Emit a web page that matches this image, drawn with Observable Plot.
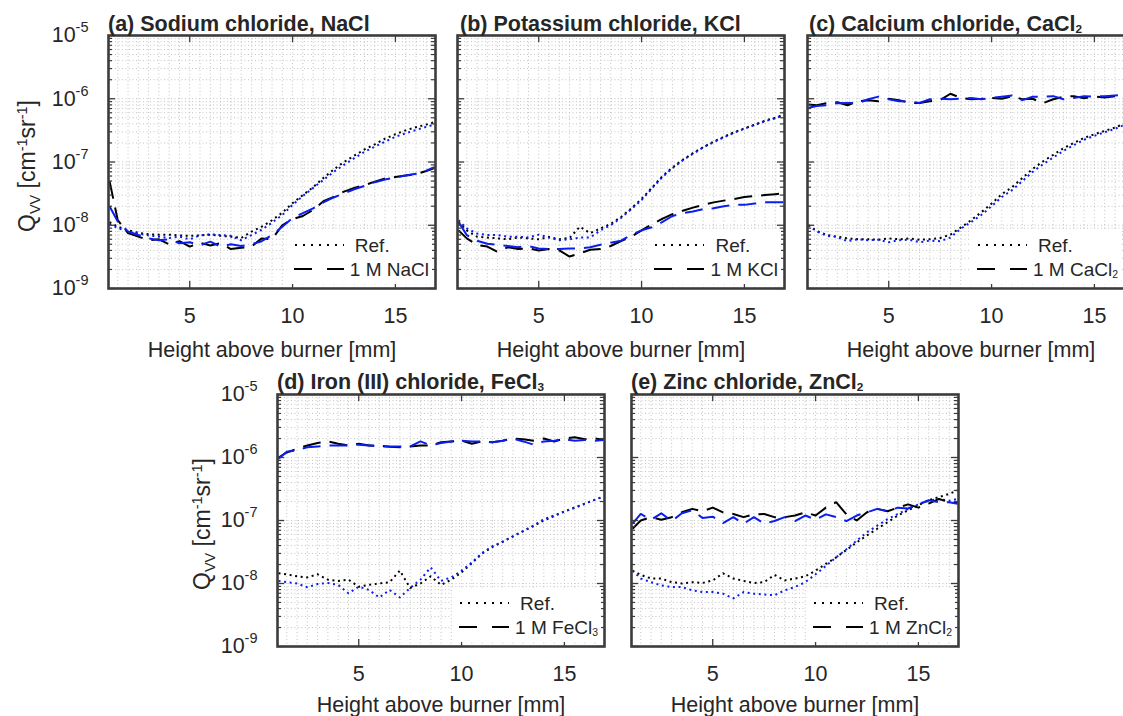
<!DOCTYPE html>
<html>
<head>
<meta charset="utf-8">
<script src="https://cdn.jsdelivr.net/npm/d3@7"></script>
<script src="https://cdn.jsdelivr.net/npm/@observablehq/plot@0.6"></script>
<style>
html, body { margin: 0; padding: 0; overflow: hidden; background: #fff; }
#root { position: relative; width: 1123px; height: 716px; overflow: hidden; background: #fff;
  font-family: "Liberation Sans", Arial, Helvetica, sans-serif; color: #262626; }
.title { position: absolute; font-weight: bold; font-size: 21.5px; line-height: 1; white-space: nowrap; }
.title sub, .legend sub { font-size: 0.55em; vertical-align: -0.2em; line-height: 0; }
.ylab { position: absolute; font-size: 23px; line-height: 1; white-space: nowrap; transform: translate(-50%, -50%) rotate(-90deg); }
.ylab sub { font-size: 0.63em; vertical-align: -0.35em; line-height: 0; }
.ylab sup { font-size: 0.63em; vertical-align: 0.55em; line-height: 0; }
.legend { position: absolute; background: #fff; padding: 3px 3px 3px 7px; font-size: 19px; line-height: 1; }
.legend .row { display: flex; align-items: center; height: 24px; white-space: nowrap; }
svg.panel { position: absolute; }
</style>
</head>
<body>
<div id="root"></div>
<script>
// ---------- data ----------
const heights = [1.1,1.5,2,2.5,3,3.5,4,4.5,5,5.5,6,6.5,7,7.5,8,8.5,9,9.5,10,10.5,11,11.5,12,12.5,13,13.5,14,14.5,15,15.5,16,16.5,16.9];

// (a) NaCl
const naclRefBlack  = [1.12e-8,9.5e-9,8.3e-9,7.6e-9,7.2e-9,7.1e-9,7.1e-9,6.9e-9,6.8e-9,6.9e-9,7.1e-9,6.8e-9,6.6e-9,6.3e-9,7.9e-9,9.5e-9,1.2e-8,1.58e-8,2.24e-8,3.0e-8,4.0e-8,5.6e-8,7.6e-8,1.0e-7,1.26e-7,1.58e-7,1.9e-7,2.34e-7,2.75e-7,3.16e-7,3.55e-7,3.9e-7,4.27e-7];
const naclRefBlue   = [1.05e-8,9.0e-9,8.0e-9,7.4e-9,6.9e-9,6.6e-9,6.3e-9,6.6e-9,6.0e-9,6.9e-9,7.2e-9,7.0e-9,6.8e-9,5.8e-9,7.0e-9,8.5e-9,1.1e-8,1.45e-8,2.1e-8,2.9e-8,3.9e-8,5.2e-8,7.0e-8,9.0e-8,1.15e-7,1.45e-7,1.75e-7,2.1e-7,2.5e-7,2.85e-7,3.2e-7,3.6e-7,3.9e-7];
const naclSaltBlack = [5.0e-8,1.2e-8,7.5e-9,6.6e-9,5.8e-9,6.0e-9,5.0e-9,5.6e-9,4.6e-9,5.3e-9,4.8e-9,5.2e-9,4.2e-9,4.4e-9,4.6e-9,6.2e-9,6.0e-9,1.0e-8,1.25e-8,1.4e-8,1.75e-8,2.4e-8,2.8e-8,3.4e-8,3.9e-8,4.3e-8,4.9e-8,5.5e-8,5.8e-8,6.1e-8,6.4e-8,7.2e-8,8.0e-8];
const naclSaltBlue  = [2.0e-8,1.15e-8,8.0e-9,7.0e-9,6.2e-9,5.8e-9,6.0e-9,5.2e-9,5.4e-9,4.8e-9,5.5e-9,4.6e-9,5.0e-9,4.7e-9,5.0e-9,5.6e-9,7.0e-9,9.5e-9,1.3e-8,1.55e-8,1.85e-8,2.3e-8,2.75e-8,3.2e-8,3.7e-8,4.2e-8,4.8e-8,5.3e-8,5.7e-8,6.1e-8,6.5e-8,7.3e-8,8.3e-8];

// (b) KCl
const kclRefBlack  = [1.12e-8,8.3e-9,6.6e-9,6.4e-9,6.2e-9,6.0e-9,6.4e-9,6.2e-9,6.0e-9,6.5e-9,6.0e-9,6.3e-9,9.5e-9,7.5e-9,8.9e-9,1.05e-8,1.35e-8,1.85e-8,2.6e-8,3.9e-8,5.9e-8,8.2e-8,1.08e-7,1.38e-7,1.72e-7,2.1e-7,2.5e-7,2.95e-7,3.4e-7,3.9e-7,4.5e-7,5.0e-7,5.6e-7];
const kclRefBlue   = [1.2e-8,8.9e-9,7.4e-9,7.0e-9,7.0e-9,6.6e-9,6.6e-9,6.4e-9,7.1e-9,6.4e-9,5.8e-9,6.0e-9,6.4e-9,6.4e-9,8.3e-9,1.0e-8,1.3e-8,1.8e-8,2.5e-8,3.8e-8,5.7e-8,8.0e-8,1.06e-7,1.35e-7,1.7e-7,2.05e-7,2.45e-7,2.9e-7,3.35e-7,3.85e-7,4.4e-7,4.9e-7,5.5e-7];
const kclSaltBlack = [8.3e-9,6.2e-9,4.9e-9,4.6e-9,3.8e-9,4.5e-9,4.2e-9,4.3e-9,4.0e-9,4.2e-9,4.0e-9,3.2e-9,3.6e-9,4.1e-9,4.2e-9,4.7e-9,5.6e-9,6.6e-9,8.3e-9,1.03e-8,1.26e-8,1.5e-8,1.7e-8,1.9e-8,2.1e-8,2.3e-8,2.45e-8,2.6e-8,2.8e-8,2.9e-8,3.0e-8,3.1e-8,3.2e-8];
const kclSaltBlue  = [1.12e-8,7.0e-9,5.7e-9,5.1e-9,4.9e-9,4.7e-9,4.5e-9,4.7e-9,4.3e-9,4.2e-9,4.2e-9,4.3e-9,4.3e-9,4.5e-9,4.9e-9,5.3e-9,5.7e-9,7.0e-9,8.3e-9,9.3e-9,1.12e-8,1.4e-8,1.55e-8,1.65e-8,1.8e-8,1.85e-8,2.0e-8,2.1e-8,2.1e-8,2.2e-8,2.3e-8,2.3e-8,2.3e-8];

// (c) CaCl2
const cacl2RefBlack  = [1.0e-8,8.1e-9,7.0e-9,6.6e-9,6.2e-9,6.0e-9,6.0e-9,5.9e-9,6.2e-9,6.0e-9,6.2e-9,5.9e-9,6.0e-9,6.3e-9,7.1e-9,9.2e-9,1.2e-8,1.6e-8,2.2e-8,3.1e-8,4.0e-8,5.6e-8,7.8e-8,1.02e-7,1.3e-7,1.65e-7,2.0e-7,2.4e-7,2.75e-7,3.1e-7,3.5e-7,4.1e-7,4.5e-7];
const cacl2RefBlue   = [1.0e-8,8.0e-9,6.8e-9,6.5e-9,5.6e-9,6.0e-9,5.8e-9,5.9e-9,5.4e-9,5.8e-9,5.9e-9,5.4e-9,5.7e-9,5.6e-9,6.4e-9,8.8e-9,1.12e-8,1.45e-8,2.0e-8,2.8e-8,3.6e-8,5.0e-8,7.0e-8,9.2e-8,1.18e-7,1.5e-7,1.85e-7,2.25e-7,2.6e-7,2.95e-7,3.35e-7,3.9e-7,4.3e-7];
const cacl2SaltBlack = [8.1e-7,7.9e-7,8.5e-7,8.8e-7,7.9e-7,9.1e-7,9.5e-7,9.1e-7,1.0e-6,9.5e-7,8.6e-7,8.6e-7,9.1e-7,9.5e-7,1.2e-6,1.03e-6,9.8e-7,1.0e-6,1.03e-6,1.0e-6,1.1e-6,9.8e-7,1.0e-6,8.5e-7,9.8e-7,1.08e-6,1.1e-6,1.02e-6,1.08e-6,1.05e-6,1.1e-6,1.13e-6,1.15e-6];
const cacl2SaltBlue  = [7.2e-7,7.7e-7,7.9e-7,8.5e-7,8.6e-7,8.5e-7,9.8e-7,1.08e-6,9.8e-7,9.1e-7,9.1e-7,8.6e-7,9.8e-7,1.0e-6,9.8e-7,1.0e-6,1.03e-6,9.8e-7,1.03e-6,1.08e-6,1.13e-6,9.5e-7,1.08e-6,1.08e-6,1.1e-6,9.8e-7,1.03e-6,1.1e-6,1.08e-6,1.1e-6,1.13e-6,1.15e-6,1.15e-6];

// (d) FeCl3
const fecl3RefBlack  = [1.45e-8,1.4e-8,1.3e-8,1.25e-8,1.4e-8,1.15e-8,1.1e-8,1.15e-8,8.9e-9,9.5e-9,1.0e-8,1.05e-8,1.6e-8,8.5e-9,1.0e-8,1.3e-8,9.5e-9,1.15e-8,1.5e-8,2.1e-8,3.0e-8,3.8e-8,4.6e-8,5.6e-8,6.8e-8,8.2e-8,1.0e-7,1.18e-7,1.38e-7,1.6e-7,1.85e-7,2.15e-7,2.4e-7];
const fecl3RefBlue   = [1.1e-8,1.05e-8,1.0e-8,8.7e-9,9.8e-9,1.02e-8,9.5e-9,7.0e-9,8.9e-9,7.9e-9,6.0e-9,7.9e-9,6.0e-9,8.5e-9,1.15e-8,1.8e-8,1.1e-8,1.25e-8,1.6e-8,2.15e-8,3.05e-8,3.9e-8,4.6e-8,5.6e-8,6.8e-8,8.3e-8,1.05e-7,1.2e-7,1.4e-7,1.6e-7,1.85e-7,2.15e-7,2.4e-7];
const fecl3SaltBlack = [1.0e-6,1.2e-6,1.38e-6,1.55e-6,1.7e-6,1.8e-6,1.65e-6,1.55e-6,1.65e-6,1.55e-6,1.55e-6,1.48e-6,1.45e-6,1.5e-6,1.55e-6,1.55e-6,1.75e-6,1.8e-6,1.85e-6,1.65e-6,1.8e-6,1.75e-6,1.85e-6,2.0e-6,1.95e-6,1.85e-6,2.0e-6,1.8e-6,2.0e-6,2.1e-6,1.95e-6,2.0e-6,1.9e-6];
const fecl3SaltBlue  = [9.6e-7,1.23e-6,1.3e-6,1.45e-6,1.5e-6,1.55e-6,1.55e-6,1.55e-6,1.6e-6,1.55e-6,1.5e-6,1.5e-6,1.5e-6,1.5e-6,1.8e-6,1.55e-6,1.7e-6,1.8e-6,1.85e-6,1.8e-6,1.8e-6,1.75e-6,1.85e-6,2.0e-6,1.8e-6,1.6e-6,1.8e-6,1.85e-6,1.95e-6,1.85e-6,1.9e-6,1.85e-6,1.9e-6];

// (e) ZnCl2
const zncl2RefBlack  = [1.6e-8,1.37e-8,1.2e-8,1.2e-8,1.05e-8,1.0e-8,1.05e-8,1.02e-8,1.12e-8,1.45e-8,1.2e-8,1.1e-8,1.02e-8,1.05e-8,1.37e-8,1.12e-8,1.2e-8,1.3e-8,1.6e-8,2.05e-8,2.6e-8,3.4e-8,4.5e-8,5.8e-8,7.4e-8,9.4e-8,1.2e-7,1.45e-7,1.75e-7,2.1e-7,2.35e-7,2.65e-7,3.0e-7];
const zncl2RefBlue   = [1.6e-8,1.2e-8,1.05e-8,9.3e-9,8.8e-9,8.8e-9,7.8e-9,7.3e-9,7.3e-9,6.9e-9,5.8e-9,7.3e-9,6.9e-9,6.7e-9,6.5e-9,7.8e-9,8.8e-9,1.05e-8,1.4e-8,1.9e-8,2.6e-8,3.5e-8,4.8e-8,6.5e-8,8.3e-8,1.05e-7,1.27e-7,1.53e-7,1.8e-7,2.05e-7,2.2e-7,2.05e-7,2.2e-7];
const zncl2SaltBlack = [7.4e-8,1.0e-7,1.13e-7,1.03e-7,1.13e-7,1.35e-7,1.53e-7,1.4e-7,1.6e-7,1.35e-7,1.27e-7,1.13e-7,1.25e-7,1.27e-7,1.13e-7,1.13e-7,1.2e-7,1.35e-7,1.2e-7,1.6e-7,1.95e-7,1.25e-7,1.0e-7,1.35e-7,1.53e-7,1.4e-7,1.6e-7,1.8e-7,1.6e-7,1.85e-7,2.2e-7,1.95e-7,1.9e-7];
const zncl2SaltBlue  = [8.9e-8,1.27e-7,1.03e-7,1.3e-7,9.8e-8,1.3e-7,1.45e-7,1.1e-7,1.15e-7,9.1e-8,1.13e-7,8.9e-8,1.13e-7,8.9e-8,9.8e-8,1.13e-7,9.8e-8,1.2e-7,1.03e-7,1.25e-7,1.13e-7,9.8e-8,1.2e-7,1.35e-7,1.53e-7,1.4e-7,1.6e-7,1.55e-7,1.8e-7,2.1e-7,1.95e-7,1.95e-7,1.85e-7];

// titles & legend labels
const panelTitles = ["(a) Sodium chloride, NaCl", "(b) Potassium chloride, KCl", "(c) Calcium chloride, CaCl<sub>2</sub>", "(d) Iron (III) chloride, FeCl<sub>3</sub>", "(e) Zinc chloride, ZnCl<sub>2</sub>"];
const saltLabels = ["1 M NaCl", "1 M KCl", "1 M CaCl<sub>2</sub>", "1 M FeCl<sub>3</sub>", "1 M ZnCl<sub>2</sub>"];
const refLabel = "Ref.";
const xLabel = "Height above burner [mm]";
const yLabelHTML = "Q<sub>VV</sub> [cm<sup>-1</sup>sr<sup>-1</sup>]";

// axes
const xDomain = [1.05, 16.95];
const yDomain = [1e-9, 1e-5];
const xTicks = [5, 10, 15];
const yTicks = [1e-9, 1e-8, 1e-7, 1e-6, 1e-5];

// ---------- drawing ----------
const BLACK = "#000000", BLUE = "#0a1ef0", AX = "#3c3c3c", GRID = "#c4c4c4";
const DOT = "2,3.6", DASH = "18,9";
const FW = 327;
const xGrid = d3.range(1.5, 17, 0.5);
const yGrid = d3.range(-9, -5).flatMap(k => d3.range(1, 10).map(m => m * Math.pow(10, k))).concat([1e-5]);
const yMinor = yGrid.filter(v => !yTicks.includes(v));

const panels = [
  {fx: 108, fy: 35, fh: 253, showY: true,  tx: 108, ty: 14,  lo: 68, ref: [naclRefBlack, naclRefBlue], salt: [naclSaltBlack, naclSaltBlue]},
  {fx: 457, fy: 35, fh: 253, showY: false, tx: 460, ty: 14,  lo: 68, ref: [kclRefBlack, kclRefBlue], salt: [kclSaltBlack, kclSaltBlue]},
  {fx: 807, fy: 35, fh: 253, showY: false, tx: 809, ty: 14,  lo: 68, ref: [cacl2RefBlack, cacl2RefBlue], salt: [cacl2SaltBlack, cacl2SaltBlue]},
  {fx: 277, fy: 394, fh: 252, showY: true, tx: 277, ty: 372, lo: 65, ref: [fecl3RefBlack, fecl3RefBlue], salt: [fecl3SaltBlack, fecl3SaltBlue]},
  {fx: 631, fy: 394, fh: 252, showY: false, tx: 631, ty: 372, lo: 65, ref: [zncl2RefBlack, zncl2RefBlue], salt: [zncl2SaltBlack, zncl2SaltBlue]}
];
const ylabCenters = [[27, 166], null, null, [202, 524], null];

const root = document.getElementById("root");

function series(vals, color, dash) {
  return Plot.line(vals, {x: (d, i) => heights[i], y: d => d, stroke: color, strokeWidth: 2,
    strokeDasharray: dash, strokeLinecap: "butt", clip: true});
}

panels.forEach((p, k) => {
  const ML = p.showY ? 108 : 12, MR = 14, MT = 8, MB = 74;
  const marks = [
    Plot.gridX(xGrid, {stroke: GRID, strokeOpacity: 1, strokeWidth: 1, strokeDasharray: "1,2.5"}),
    Plot.gridY(yGrid, {stroke: GRID, strokeOpacity: 1, strokeWidth: 1, strokeDasharray: "1,2.5"}),
    series(p.ref[0], BLACK, DOT),
    series(p.ref[1], BLUE, DOT),
    series(p.salt[0], BLACK, DASH),
    series(p.salt[1], BLUE, DASH),
    Plot.tickY(yTicks, {y: d => d, insetRight: FW - 7, stroke: AX, strokeWidth: 1.3}),
    Plot.tickY(yTicks, {y: d => d, insetLeft: FW - 7, stroke: AX, strokeWidth: 1.3}),
    Plot.tickY(yMinor, {y: d => d, insetRight: FW - 4, stroke: AX, strokeWidth: 1.2}),
    Plot.tickY(yMinor, {y: d => d, insetLeft: FW - 4, stroke: AX, strokeWidth: 1.2}),
    Plot.tickX(xTicks, {x: d => d, insetTop: p.fh - 7, stroke: AX, strokeWidth: 1.3}),
    Plot.tickX(xTicks, {x: d => d, insetBottom: p.fh - 7, stroke: AX, strokeWidth: 1.3}),
    Plot.frame({stroke: AX, strokeWidth: 2.6}),
    Plot.axisX(xTicks, {tickSize: 0, tickPadding: 19, label: xLabel, labelAnchor: "center",
      labelOffset: p.lo, labelArrow: "none", fontSize: 21.5, fill: "#262626"})
  ];
  if (p.showY) {
    marks.push(Plot.axisY(yTicks, {tickSize: 0, tickPadding: 20, label: null, fontSize: 21.5, fill: "#262626",
      tickFormat: d => "10^" + Math.round(Math.log10(d))}));
  }
  const svg = Plot.plot({
    width: ML + FW + MR, height: MT + p.fh + MB,
    marginLeft: ML, marginRight: MR, marginTop: MT, marginBottom: MB,
    style: {background: "transparent", fontFamily: "'Liberation Sans', Arial, sans-serif", fontSize: "21.5px", color: "#262626", overflow: "visible"},
    x: {domain: xDomain},
    y: {type: "log", domain: yDomain, axis: p.showY ? undefined : null},
    marks
  });
  svg.classList.add("panel");
  svg.style.left = (p.fx - ML) + "px";
  svg.style.top = (p.fy - MT) + "px";
  // superscript exponents on y tick labels
  svg.querySelectorAll('g[aria-label="y-axis tick label"] text').forEach(t => {
    const s = t.textContent;
    if (!s.includes("^")) return;
    const [base, ex] = s.split("^");
    t.textContent = "";
    const t1 = document.createElementNS("http://www.w3.org/2000/svg", "tspan");
    t1.textContent = base;
    const t2 = document.createElementNS("http://www.w3.org/2000/svg", "tspan");
    t2.textContent = ex;
    t2.setAttribute("dy", "-10");
    t2.setAttribute("font-size", "14.5");
    t.appendChild(t1); t.appendChild(t2);
  });
  root.appendChild(svg);

  // title
  const title = document.createElement("div");
  title.className = "title";
  title.innerHTML = panelTitles[k];
  title.style.left = p.tx + "px";
  title.style.top = p.ty + "px";
  root.appendChild(title);

  // legend (kept inside the page so its text is not cut)
  const lg = document.createElement("div");
  lg.className = "legend";
  lg.style.right = Math.max(2, 1123 - (p.fx + FW - 3)) + "px";
  lg.style.bottom = (716 - (p.fy + p.fh - 4)) + "px";
  lg.innerHTML =
    `<div class="row"><svg width="50" height="10"><line x1="1" x2="50" y1="5" y2="5" stroke="#000" stroke-width="2" stroke-dasharray="2,6"/></svg><span style="margin-left:11px">${refLabel}</span></div>` +
    `<div class="row"><svg width="50" height="10"><line x1="0" x2="51" y1="5" y2="5" stroke="#000" stroke-width="2" stroke-dasharray="18,15"/></svg><span style="margin-left:6px">${saltLabels[k]}</span></div>`;
  root.appendChild(lg);

  // y label
  if (ylabCenters[k]) {
    const yl = document.createElement("div");
    yl.className = "ylab";
    yl.innerHTML = yLabelHTML;
    yl.style.left = ylabCenters[k][0] + "px";
    yl.style.top = ylabCenters[k][1] + "px";
    root.appendChild(yl);
  }
});
</script>
</body>
</html>
